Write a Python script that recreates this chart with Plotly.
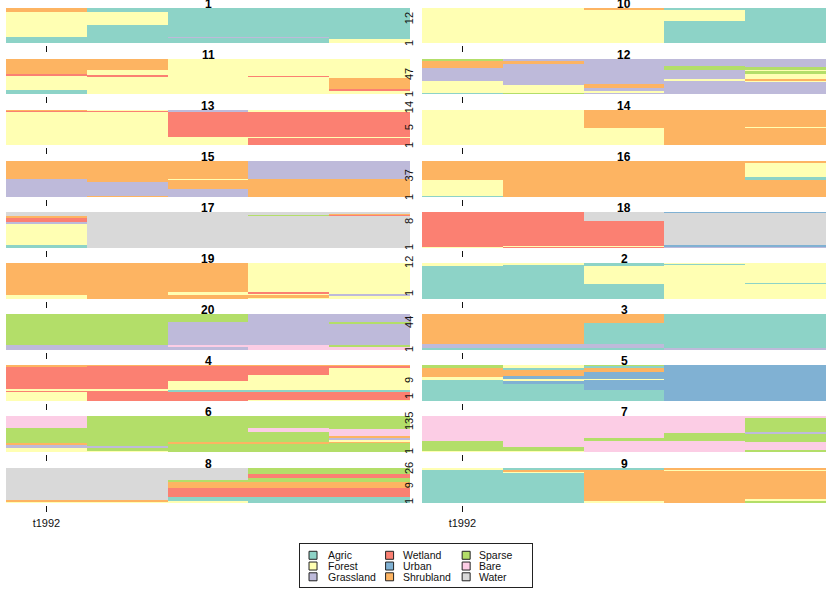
import plotly.graph_objects as go

CATEGORIES = ["Agric", "Forest", "Grassland", "Wetland", "Urban", "Shrubland", "Sparse", "Bare", "Water"]
CODES = ["A", "F", "G", "W", "U", "S", "P", "B", "O"]
COLORS = ["#8DD3C7", "#FFFFB3", "#BEBADA", "#FB8072", "#80B1D3", "#FDB462", "#B3DE69", "#FCCDE5", "#D9D9D9"]
COLUMNS = [0, 1, 2, 3, 4]
TICK_LABEL = "t1992"

# Each panel: five columns, each a bottom-to-top list of (land cover code, percent)
P1 = [[("A",17),("F",71),("S",12)], [("A",51),("F",37),("A",12)], [("A",15),("G",1),("A",84)], [("A",15),("G",1),("A",84)], [("F",11),("A",89)]]
P11 = [[("A",11),("F",43),("W",2),("S",44)], [("F",51),("W",2),("F",15),("S",32)], [("F",100)], [("F",50),("W",1),("F",49)], [("F",10),("W",3),("S",34),("F",53)]]
P13 = [[("F",96),("W",1.5),("S",2.5)], [("F",96),("W",3),("F",1)], [("F",23),("W",72),("G",5)], [("W",21),("F",1.5),("W",71),("F",6.5)], [("W",21),("F",1.5),("W",71.5),("F",6)]]
P15 = [[("G",49),("S",51)], [("S",2),("G",39),("S",59)], [("G",21),("S",28),("F",2),("S",49)], [("S",49.5),("G",50.5)], [("S",50),("G",50)]]
P17 = [[("A",8),("F",58),("G",6),("W",12),("S",5),("O",11)], [("O",100)], [("O",100)], [("O",89),("P",3),("O",8)], [("O",91.5),("W",2),("S",3.5),("O",3)]]
P19 = [[("F",11),("S",89)], [("S",100)], [("S",11),("F",8),("S",81)], [("F",5),("S",5.5),("F",6),("W",2),("F",81.5)], [("F",10),("G",4),("F",86)]]
P20 = [[("G",13),("P",87)], [("G",13),("P",87)], [("G",11),("B",2),("G",64),("P",23)], [("B",13),("G",87)], [("B",11),("P",2),("G",59),("P",6),("G",22)]]
P4 = [[("F",25),("W",4.5),("F",2.5),("W",65),("S",3)], [("W",30),("F",2.5),("W",65),("S",2.5)], [("W",25),("A",5.5),("F",24),("W",43),("S",2.5)], [("F",2),("W",23),("A",5.5),("F",41),("W",26),("S",2.5)], [("F",2),("W",23),("A",5.5),("F",63),("W",4),("S",2.5)]]
P6 = [[("F",10),("G",9),("S",6),("P",43),("B",32)], [("F",5.5),("P",5.5),("G",6.5),("P",82.5)], [("P",24),("S",4),("P",72)], [("P",24),("S",5),("P",26),("B",13),("P",32)], [("P",26),("S",2),("F",4),("G",7),("S",5),("B",20),("P",36)]]
P8 = [[("F",2),("S",6),("O",92)], [("F",2),("S",6),("O",92)], [("F",6),("A",10),("W",28),("S",16),("P",7),("O",33)], [("A",16),("W",28),("S",15),("P",12),("W",12),("P",17)], [("A",16),("W",28),("S",15),("P",12),("W",12),("P",17)]]

P10 = [[("F",100)], [("F",100)], [("F",97),("S",3)], [("A",63),("F",34),("A",3)], [("A",100)]]
P12 = [[("A",2),("F",35),("G",38),("S",19),("P",6)], [("P",2),("F",24),("G",59),("S",9),("G",6)], [("G",2),("F",6),("G",10),("S",11),("G",71)], [("G",36),("F",7),("G",25),("P",11),("G",21)], [("G",36),("F",3),("S",3),("F",15),("P",11),("F",2),("P",8),("G",22)]]
P14 = [[("F",100)], [("F",100)], [("F",49),("S",51)], [("S",100)], [("S",49.5),("F",1.5),("S",49)]]
P16 = [[("A",2),("F",45),("S",53)], [("S",100)], [("S",100)], [("S",100)], [("S",46),("A",9),("F",40),("W",2),("S",3)]]
P18 = [[("F",2.5),("W",97.5)], [("W",3),("F",3),("W",94)], [("W",3),("F",2),("W",71),("O",24)], [("G",3),("F",2.5),("U",1.5),("O",91),("U",2)], [("G",3),("F",2.5),("U",1.5),("O",91),("U",2)]]
P2 = [[("A",92),("F",8)], [("A",97),("F",3)], [("A",42),("F",50),("A",8)], [("F",92),("A",2),("F",3),("A",2),("F",1)], [("F",42),("A",1.5),("F",56.5)]]
P3 = [[("A",5),("G",11),("S",84)], [("A",5),("G",11),("S",84)], [("A",5),("G",11),("A",58),("S",26)], [("G",6.5),("A",93.5)], [("G",6.5),("A",93.5)]]
P5 = [[("A",57),("F",9),("S",27),("P",7)], [("A",47),("U",10),("F",4),("U",8),("S",18),("A",5),("F",8)], [("A",30),("U",29),("F",3),("U",18),("S",12),("A",6),("P",2)], [("U",100)], [("U",100)]]
P7 = [[("F",2),("P",28),("B",70)], [("F",2),("P",12),("B",86)], [("B",30),("P",9),("B",61)], [("B",30),("P",23),("B",47)], [("F",2),("P",3),("B",24),("P",23),("G",3),("P",42),("B",3)]]
P9 = [[("A",94),("F",6)], [("A",86),("F",4),("S",4),("A",6)], [("F",6),("S",87),("A",7)], [("S",92),("F",4),("S",4)], [("P",8),("F",4),("S",80),("F",4),("S",4)]]

LEFT_TITLES = ["1", "11", "13", "15", "17", "19", "20", "4", "6", "8"]
RIGHT_TITLES = ["10", "12", "14", "16", "18", "2", "3", "5", "7", "9"]
LEFT_PANELS = [P1, P11, P13, P15, P17, P19, P20, P4, P6, P8]
RIGHT_PANELS = [P10, P12, P14, P16, P18, P2, P3, P5, P7, P9]

# Axis labels that sit between the two columns: value position (percent) and text
SIDE_VALUES = [[71, 0], [57, 0], [108, 51, 0], [60, 0], [75, 3], [103, 17], [78, 3], [58, 14], [86, 3], [100, 51, 6]]
SIDE_TEXTS = [["12", "1"], ["47", "1"], ["14", "5", "1"], ["37", "1"], ["8", "1"], ["12", "1"], ["44", "1"], ["9", "1"], ["135", "1"], ["26", "9", "1"]]

W, H = 832, 601
ROW_TOPS = [8, 59, 110, 161, 212, 263, 314, 365, 416, 468]
ROW_BOTTOMS = [43, 94, 145, 197, 248, 299, 350, 401, 452, 503]
COL_SPANS = [(6, 410), (422, 826)]
FONT = "Liberation Sans"


def suffix(n):
    return "" if n == 1 else str(n)


color_of = dict(zip(CODES, COLORS))
fig = go.Figure()
layout = {}
annotations = []
axis_id = 0

for c, (panels, titles) in enumerate([(LEFT_PANELS, LEFT_TITLES), (RIGHT_PANELS, RIGHT_TITLES)]):
    for r, (panel, title) in enumerate(zip(panels, titles)):
        axis_id += 1
        xname = f"x{suffix(axis_id)}"
        yname = f"y{suffix(axis_id)}"
        for col, segments in zip(COLUMNS, panel):
            for code, value in segments:
                fig.add_trace(go.Bar(
                    x=[col], y=[value], xaxis=xname, yaxis=yname,
                    marker=dict(color=color_of[code], line=dict(width=0)),
                    name=CATEGORIES[CODES.index(code)], showlegend=False,
                ))
        last = r == len(panels) - 1
        layout[f"xaxis{suffix(axis_id)}"] = dict(
            domain=[COL_SPANS[c][0] / W, COL_SPANS[c][1] / W],
            range=[-0.5, 4.5], anchor="free",
            position=1 - (ROW_BOTTOMS[r] + 2) / H,
            tickmode="array", tickvals=[COLUMNS[0]],
            ticktext=[TICK_LABEL if last else ""],
            ticks="outside", ticklen=6, tickwidth=1, tickcolor="#111",
            tickfont=dict(family=FONT, size=11, color="#111"), ticklabelstandoff=2,
            showgrid=False, zeroline=False, showline=False, fixedrange=True,
        )
        layout[f"yaxis{suffix(axis_id)}"] = dict(
            domain=[1 - ROW_BOTTOMS[r] / H, 1 - ROW_TOPS[r] / H],
            range=[0, 100], anchor=xname, visible=False, fixedrange=True,
        )
        annotations.append(dict(
            text=f"<b>{title}</b>", xref=f"{xname} domain", yref=f"{yname} domain",
            x=0.5, y=1, yanchor="middle", yshift=4, showarrow=False,
            font=dict(family=FONT, size=12, color="#000"),
        ))
        if c == 0:
            for v, t in zip(SIDE_VALUES[r], SIDE_TEXTS[r]):
                annotations.append(dict(
                    text=t, xref="paper", yref=f"{yname} domain", x=409 / W, y=v / 100,
                    xanchor="center", yanchor="middle",
                    textangle=-90, showarrow=False,
                    font=dict(family=FONT, size=11, color="#111"),
                ))

# Legend panel
LEGEND_X = [0, 0, 0, 1, 1, 1, 2, 2, 2]
LEGEND_Y = [2, 1, 0, 2, 1, 0, 2, 1, 0]
LEGEND_TEXT_GAP = [0.18, 0.16, 0.157]
legend_id = axis_id + 1
lx, ly = f"x{legend_id}", f"y{legend_id}"
fig.add_trace(go.Scatter(
    x=LEGEND_X, y=LEGEND_Y, xaxis=lx, yaxis=ly, mode="markers", showlegend=False,
    marker=dict(symbol="square", size=8, color=COLORS, line=dict(color="#222", width=1)),
    hovertext=CATEGORIES, hoverinfo="text",
))
layout[f"xaxis{legend_id}"] = dict(
    domain=[300 / W, 532 / W], range=[-0.17, 2.86], anchor=ly, showgrid=False, zeroline=False,
    showticklabels=False, ticks="", showline=True, mirror=True, linecolor="#222", linewidth=1, fixedrange=True,
)
layout[f"yaxis{legend_id}"] = dict(
    domain=[1 - 587 / H, 1 - 544 / H], range=[-0.95, 3.05], anchor=lx, showgrid=False, zeroline=False,
    showticklabels=False, ticks="", showline=True, mirror=True, linecolor="#222", linewidth=1, fixedrange=True,
)
for x, y, name in zip(LEGEND_X, LEGEND_Y, CATEGORIES):
    annotations.append(dict(
        text=name, xref=lx, yref=ly, x=x + LEGEND_TEXT_GAP[x], y=y, xanchor="left", yanchor="middle",
        showarrow=False, borderpad=0, font=dict(family=FONT, size=10.5, color="#111"),
    ))

fig.update_layout(
    width=W, height=H, margin=dict(l=0, r=0, t=0, b=0),
    barmode="stack", bargap=0, plot_bgcolor="white", paper_bgcolor="white",
    showlegend=False, annotations=annotations, **layout,
)
fig.write_html("out.html", post_script="document.body.style.margin='0';", config={"displayModeBar": False})
